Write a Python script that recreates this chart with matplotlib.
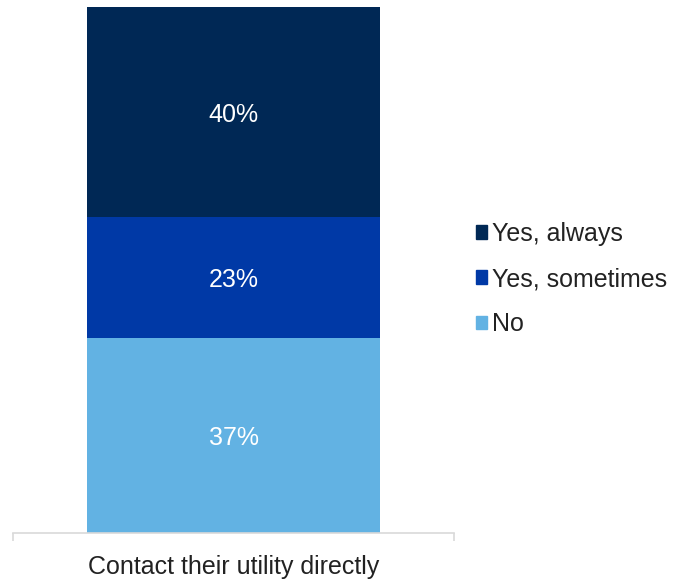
import matplotlib.pyplot as plt
from matplotlib.patches import Patch

plt.rcParams['font.family'] = ['Liberation Sans', 'DejaVu Sans']

category = 'Contact their utility directly'
labels = ['No', 'Yes, sometimes', 'Yes, always']
values = [37, 23, 40]
colors = ['#62B2E3', '#0039A6', '#002855']

fig = plt.figure(figsize=(6.73, 5.82), dpi=100)
ax = fig.add_axes([13 / 673, 1 - 533 / 582, 441 / 673, 526 / 582])

bottom = 0
for lab, val, col in zip(labels, values, colors):
    ax.bar(0, val, width=0.665, bottom=bottom, color=col, label=lab)
    ax.text(0, bottom + val / 2, f'{val}%', ha='center', va='center_baseline',
            color='white', fontsize=18)
    bottom += val

ax.set_xlim(-0.5, 0.5)
ax.set_ylim(0, 100)
ax.set_yticks([])
ax.set_xticks([0])
ax.set_xticklabels([category], fontsize=18, color='#222222')
ax.tick_params(axis='x', which='major', length=0, pad=16)
ax.set_xticks([-0.5, 0.5], minor=True)
ax.tick_params(axis='x', which='minor', length=6, color='#D9D9D9', width=1.2)
for s in ['top', 'right', 'left']:
    ax.spines[s].set_visible(False)
ax.spines['bottom'].set_color('#D9D9D9')
ax.spines['bottom'].set_linewidth(1.2)

handles = [Patch(color=c, label=l) for l, c in zip(labels[::-1], colors[::-1])]
fig.legend(handles=handles, loc='center left', bbox_to_anchor=(476 / 673, 1 - 279 / 582),
           frameon=False, fontsize=18, handlelength=0.45, handleheight=0.45,
           handletextpad=0.2, labelspacing=0.85, labelcolor='#222222',
           borderpad=0, borderaxespad=0)

fig.savefig('out.png', dpi=100)
